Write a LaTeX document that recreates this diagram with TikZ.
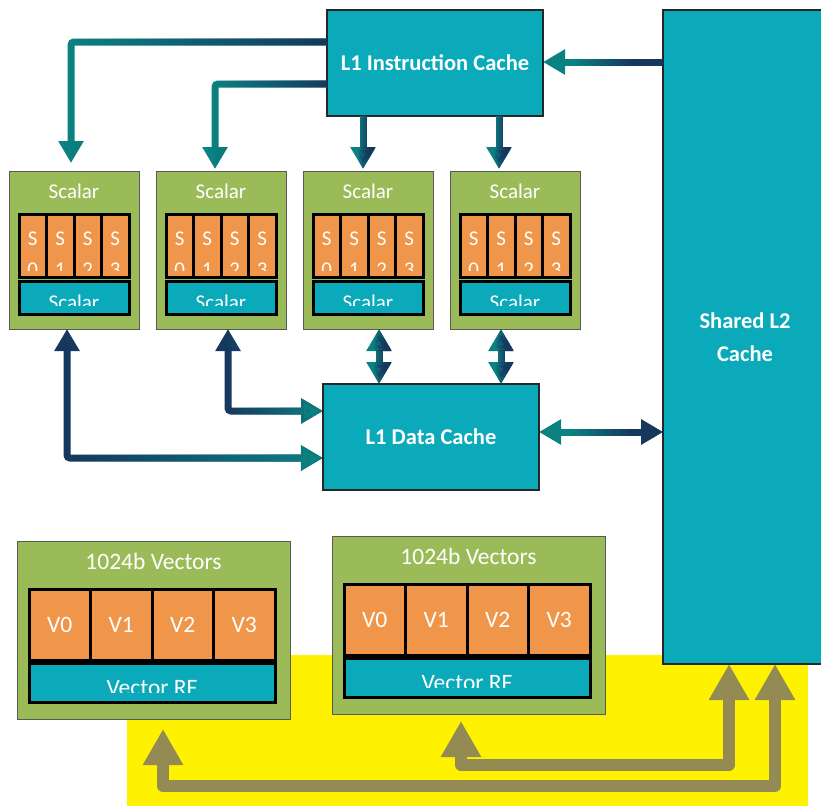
\documentclass[tikz,border=0pt]{standalone}
\usepackage{fontspec}
\setmainfont{Carlito}
\usetikzlibrary{positioning, arrows.meta, calc, fadings}

\definecolor{cachefill}{HTML}{0AAABB}
\definecolor{unitgreen}{HTML}{9BBB59}
\definecolor{regorange}{HTML}{F0964A}
\definecolor{arrteal}{HTML}{0B8282}
\definecolor{arrnavy}{HTML}{17375E}
\definecolor{busolive}{HTML}{948A54}

% transparent on the left, opaque on the right
\tikzfading[name=toright, left color=transparent!100, right color=transparent!0]

\begin{document}
\begin{tikzpicture}[
    x=1pt, y=-1pt,
    >={Triangle[width=24pt,length=22pt]},
    font=\fontsize{21}{24}\selectfont,
    cache/.style={draw=black!85, line width=1.2pt, fill=cachefill, text=white,
        font=\fontsize{22.5}{33}\selectfont\bfseries, align=center,
        inner sep=0pt, outer sep=0pt, anchor=north west},
    unit/.style={draw=black!65, line width=0.8pt, fill=unitgreen,
        inner sep=0pt, outer sep=0pt, anchor=north west},
    reg/.style={draw=black, line width=3pt, fill=regorange, text=white,
        inner sep=0pt, outer sep=0pt, anchor=north west},
    regfile/.style={reg, fill=cachefill},
    lbl/.style={text=white, inner sep=0pt, anchor=base},
    vtext/.style={font=\fontsize{23.5}{26}\selectfont},
    link/.style={line width=7pt, draw=arrteal, rounded corners=3pt},
    tonavy/.style={postaction={draw=arrnavy, path fading=toright}},
    toteal/.style={draw=arrnavy, postaction={draw=arrteal, path fading=toright}},
    fadeat/.style 2 args={postaction={draw=arrnavy, path fading=toright,
        fit fading=false, fading transform={shift={#1}, xscale=#2}}},
    bus/.style={line width=12pt, draw=busolive, line join=round,
        arrows={Triangle[width=38pt,length=36pt]-Triangle[width=38pt,length=36pt]}}
]

\clip (0,0) rectangle (821,806);

% highlight behind the vector units
\fill[yellow] (127,655) rectangle (808,806);

% caches
\node[cache, minimum width=216pt, minimum height=106pt] (l1i) at (327,10) {L1 Instruction Cache};
\node[cache, minimum width=216pt, minimum height=106pt] (l1d) at (323,384) {L1 Data Cache};
\node[cache, minimum width=164pt, minimum height=654pt] (l2) at (663,10) {Shared L2\\Cache};

% scalar units
\foreach \x [count=\i] in {9,156,303,450} {
    \node[unit, minimum width=130pt, minimum height=158pt] (sc\i) at (\x,171) {};
    \node[lbl] (sct\i) at (\x+65,198) {Scalar};
    \foreach \k in {0,...,3} {
        \node[reg, minimum width=27.5pt, minimum height=63pt] (s\i\k) at (\x+10+27.5*\k,214) {};
        \begin{scope}
            \clip (s\i\k.north west) rectangle (\x+37.5+27.5*\k,270);
            \node[lbl] (ss\i\k) at (\x+23.75+27.5*\k,245) {S};
            \node[lbl] (sn\i\k) at (\x+23.75+27.5*\k,276) {\k};
        \end{scope}
    }
    \node[regfile, minimum width=110pt, minimum height=33pt] (srf\i) at (\x+10,281) {};
    \begin{scope}
        \clip (srf\i.north west) rectangle (\x+120,305);
        \node[lbl] (srft\i) at (\x+65,309) {Scalar};
    \end{scope}
}

% vector units
\foreach \x/\y [count=\i] in {17/541, 332/536} {
    \node[unit, minimum width=273pt, minimum height=178pt] (vec\i) at (\x,\y) {};
    \node[lbl, vtext] (vect\i) at (\x+136.5,\y+28) {1024b Vectors};
    \foreach \k in {0,...,3}
        \node[reg, vtext, minimum width=61.5pt, minimum height=71pt] (v\i\k) at (\x+12+61.5*\k,\y+48) {V\k};
    \node[regfile, minimum width=246pt, minimum height=39pt] (vrf\i) at (\x+12,\y+122) {};
    \begin{scope}
        \clip (vrf\i.north west) rectangle (\x+258,\y+151);
        \node[lbl, vtext] (vrft\i) at (\x+135,\y+154) {Vector RF};
    \end{scope}
}

% instruction fetch
\draw[link, tonavy, ->, shorten >=8pt] ([yshift=21pt]l1i.west) -| ([xshift=-3pt]sc1.north);
\draw[link, tonavy, ->, shorten >=2pt] ([yshift=-21pt]l1i.west) -| ([xshift=-6pt]sc2.north);
\coordinate (f3) at ([xshift=-72pt]l1i.south);
\coordinate (f4) at ([xshift=64pt]l1i.south);
\draw[link, fadeat={(363,143)}{0.24}, ->, shorten >=2pt] (f3) -- (f3 |- sc3.north);
\draw[link, fadeat={(499,143)}{0.24}, ->, shorten >=2pt] (f4) -- (f4 |- sc4.north);
\coordinate (il) at ([yshift=1pt]l1i.east);
\draw[link, fadeat={(603,62)}{1.2}, ->] (il -| l2.west) -- (il);

% data paths
\draw[link, toteal, <->] ([xshift=-7pt]sc1.south) |- ([yshift=-21pt]l1d.west);
\draw[link, toteal, <->] ([xshift=7pt]sc2.south) |- ([yshift=26pt]l1d.west);
\coordinate (d3) at ([xshift=-52pt]l1d.north);
\coordinate (d4) at ([xshift=70pt]l1d.north);
\draw[link, fadeat={(379,357)}{0.24}, <->] (d3) -- (d3 |- sc3.south);
\draw[link, fadeat={(501,357)}{0.24}, <->] (d4) -- (d4 |- sc4.south);
\coordinate (dl) at ([yshift=5pt]l1d.east);
\draw[link, fadeat={(601,432)}{1.24}, <->] (dl) -- (dl -| l2.west);

% vector buses to L2
\draw[bus, shorten >=10pt] ([xshift=30pt]l2.south) -- ++(0,122) -| ([xshift=9.5pt]vec1.south);
\draw[bus, shorten >=7pt] ([xshift=-16pt]l2.south) -- ++(0,101) -| ([xshift=-7.5pt]vec2.south);

\end{tikzpicture}
\end{document}
